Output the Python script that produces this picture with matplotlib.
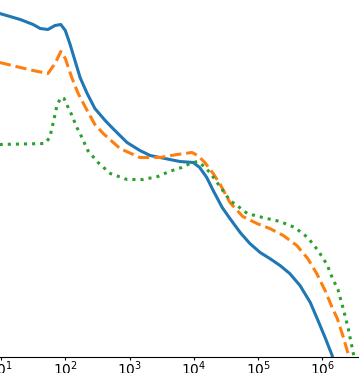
import numpy as np
import matplotlib
matplotlib.use("Agg")
import matplotlib.pyplot as plt

# x positions are given as log10(x); y is in arbitrary units (axis hidden)
logx_blue = [0.98, 1.30, 1.50, 1.61, 1.73, 1.84, 1.93, 2.00, 2.07, 2.15, 2.23, 2.34,
             2.46, 2.62, 2.74, 2.96, 3.16, 3.32, 3.55, 3.78, 3.99, 4.09, 4.20, 4.30, 4.44,
             4.56, 4.72, 4.87, 5.03, 5.18, 5.34, 5.49, 5.65, 5.81, 5.93, 6.04, 6.15, 6.19]
y_blue = [3.43, 3.37, 3.32, 3.28, 3.27, 3.31, 3.32, 3.26, 3.13, 2.96, 2.79, 2.63,
          2.48, 2.36, 2.28, 2.14, 2.06, 2.01, 1.98, 1.95, 1.94, 1.89, 1.79, 1.66, 1.49,
          1.38, 1.24, 1.13, 1.04, 0.98, 0.91, 0.83, 0.71, 0.54, 0.36, 0.19, 0.01, -0.14]

logx_orange = [0.98, 1.30, 1.50, 1.73, 1.84, 1.93, 2.00, 2.10, 2.20, 2.34, 2.46, 2.59,
               2.85, 3.16, 3.47, 3.74, 3.97, 4.06, 4.17, 4.30, 4.41, 4.56, 4.76, 4.98,
               5.18, 5.39, 5.60, 5.77, 5.91, 6.04, 6.15, 6.23, 6.33, 6.41, 6.44]
y_orange = [2.94, 2.89, 2.86, 2.83, 2.93, 3.05, 2.98, 2.79, 2.63, 2.46, 2.32, 2.23,
            2.08, 1.99, 1.99, 2.02, 2.04, 2.01, 1.94, 1.83, 1.72, 1.54, 1.40, 1.33,
            1.28, 1.21, 1.11, 0.98, 0.83, 0.66, 0.49, 0.38, 0.18, 0.00, -0.14]

logx_green = [0.98, 1.68, 1.76, 1.79, 1.82, 1.87, 1.93, 1.98, 2.03, 2.09, 2.18, 2.23,
              2.35, 2.51, 2.70, 2.96, 3.21, 3.44, 3.58, 3.71, 3.81, 3.94, 4.05, 4.14,
              4.25, 4.36, 4.45, 4.56, 4.67, 4.83, 5.07, 5.34, 5.57, 5.77, 5.93, 6.07,
              6.15, 6.24, 6.33, 6.40, 6.46, 6.51]
y_green = [2.12, 2.13, 2.19, 2.28, 2.36, 2.51, 2.59, 2.58, 2.51, 2.43, 2.29, 2.23,
           2.06, 1.94, 1.83, 1.77, 1.77, 1.80, 1.84, 1.87, 1.89, 1.93, 1.95, 1.91,
           1.84, 1.74, 1.66, 1.56, 1.51, 1.43, 1.39, 1.35, 1.29, 1.19, 1.06, 0.92,
           0.79, 0.67, 0.46, 0.28, 0.09, -0.06]

xticks = [1e1, 1e2, 1e3, 1e4, 1e5, 1e6]

fig = plt.figure(figsize=(3.59, 3.73), dpi=100)
ax = fig.add_axes([0.0, 16.5 / 373, 1.0, 356.5 / 373])

ax.plot(10 ** np.array(logx_blue), y_blue, color='#1f77b4', lw=2.2, ls='-')
ax.plot(10 ** np.array(logx_orange), y_orange, color='#ff7f0e', lw=2.2, ls='--')
ax.plot(10 ** np.array(logx_green), y_green, color='#2ca02c', lw=2.2, ls=':')

ax.set_xscale('log')
ax.set_xlim(10 ** (1 - 1 / 64.3), 10 ** (1 + 358 / 64.3))
ax.set_ylim(0, 3.565)
ax.minorticks_off()
ax.set_xticks(xticks)

for side in ['left', 'top', 'right']:
    ax.spines[side].set_visible(False)
ax.set_yticks([])
ax.tick_params(axis='x', labelsize=10, length=1.8, pad=0.3)

fig.savefig('out.png', dpi=100)
